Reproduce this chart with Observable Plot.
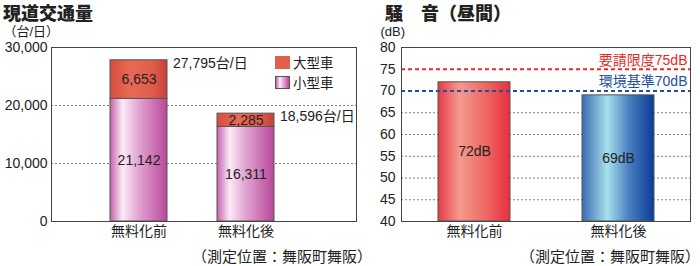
<!DOCTYPE html>
<html><head><meta charset="utf-8">
<script src="https://cdn.jsdelivr.net/npm/d3@7"></script>
<script src="https://cdn.jsdelivr.net/npm/@observablehq/plot@0.6"></script>
<style>
body{margin:0;background:#fff;}
#wrap{position:relative;width:700px;height:266px;overflow:hidden;font-family:"Liberation Sans","Noto Sans CJK JP",sans-serif;color:#222;}
.title{position:absolute;top:0px;font-family:"Noto Sans CJK JP",sans-serif;font-weight:900;font-size:18px;line-height:24px;height:24px;color:#222;white-space:nowrap;}
.foot{position:absolute;top:246px;height:20px;line-height:20px;font-size:15px;font-family:"Noto Sans CJK JP",sans-serif;white-space:nowrap;color:#222;}
#left{position:absolute;left:0;top:20px;}
#right{position:absolute;left:360px;top:20px;}
.legend{position:absolute;left:275px;top:53px;font-size:13.5px;line-height:19px;font-family:"Noto Sans CJK JP",sans-serif;}
.legend .row{display:flex;align-items:center;height:19.5px;}
.legend .row span{display:block;height:19.5px;line-height:19.5px;}
.legend .sw{width:15px;height:13px;margin-right:3px;box-sizing:border-box;}
</style>
</head><body>
<div id="wrap">
  <div id="left"></div>
  <div id="right"></div>
  <div class="title" style="left:3px">現道交通量</div>
  <div class="title" style="left:385px">騒　音（昼間）</div>
  <div class="legend" id="legend"></div>
  <div class="foot" style="right:328px">（測定位置：舞阪町舞阪）</div>
  <div class="foot" style="right:0px">（測定位置：舞阪町舞阪）</div>
</div>
<script>
// ---- data ----
const categories = ["無料化前", "無料化後"];
const vehicleTypes = ["小型車", "大型車"];
const smallCars = [21142, 16311];
const largeCars = [6653, 2285];
const trafficTicks = [0, 10000, 20000, 30000];
const trafficUnit = "（台/日）";
const totalSuffix = "台/日";

const noiseValues = [72, 69];
const noiseTicks = [40, 45, 50, 55, 60, 65, 70, 75, 80];
const noiseUnit = "(dB)";
const limitNames = ["要請限度", "環境基準"];
const limitValues = [75, 70];

// ---- derived tables ----
const fmt = d3.format(",d");
const trafficRows = categories.flatMap((c, i) => [
  {cat: c, type: vehicleTypes[0], value: smallCars[i]},
  {cat: c, type: vehicleTypes[1], value: largeCars[i]}
]);
const totals = categories.map((c, i) => ({cat: c, total: smallCars[i] + largeCars[i]}));
const noiseRows = categories.map((c, i) => ({cat: c, value: noiseValues[i]}));
const limits = limitNames.map((n, i) => ({name: n, value: limitValues[i]}));

const font = `"Liberation Sans","Noto Sans CJK JP",sans-serif`;

function addGradients(svg, grads) {
  const defs = d3.select(svg).insert("defs", ":first-child");
  for (const [id, stops] of grads) {
    const g = defs.append("linearGradient").attr("id", id)
      .attr("x1", 0).attr("x2", 1).attr("y1", 0).attr("y2", 0);
    for (const [o, c] of stops) g.append("stop").attr("offset", o).attr("stop-color", c);
  }
}

// ---- left: traffic ----
const left = Plot.plot({
  width: 360, height: 226,
  marginLeft: 51, marginRight: 4, marginTop: 27, marginBottom: 25,
  style: {fontSize: "14px", fontFamily: font, color: "#222", background: "transparent"},
  x: {domain: categories, range: [110, 275], paddingInner: 0.465, paddingOuter: 0, label: null, tickSize: 0, tickPadding: 5},
  y: {domain: [0, 30000], ticks: trafficTicks, tickFormat: fmt, label: null, tickSize: 0, tickPadding: 4},
  color: {domain: vehicleTypes, range: ["url(#gSmall)", "url(#gLarge)"]},
  marks: [
    Plot.ruleY(trafficTicks.slice(1, -1), {stroke: "#808080", strokeDasharray: "2,2"}),
    Plot.barY(trafficRows, {x: "cat", y: "value", fill: "type", stroke: "#555", strokeWidth: 1}),
    Plot.text(trafficRows, Plot.stackY({x: "cat", y: "value", z: "type", text: d => fmt(d.value), fill: "#222"})),
    Plot.text(totals, {x: "cat", y: "total", text: d => fmt(d.total) + totalSuffix, textAnchor: "start", dx: 34, dy: 3, fill: "#222"}),
    Plot.text([trafficUnit], {text: d => d, frameAnchor: "top-left", textAnchor: "start", lineAnchor: "middle", dx: -48, dy: -16, fontSize: 13, fill: "#222"}),
    Plot.frame({stroke: "#444"})
  ]
});
addGradients(left, [
  ["gSmall", [[0, "#c462ac"], [0.22, "#fbeaf6"], [0.5, "#e2a4d2"], [1, "#b8489a"]]],
  ["gLarge", [[0, "#d44c3e"], [0.35, "#e86a54"], [0.75, "#e05c4a"], [1, "#c4403a"]]]
]);
document.getElementById("left").append(left);

// legend
const legend = document.getElementById("legend");
const swatches = ["background:#e0604a;", "background:linear-gradient(90deg,#c462ac,#fbeaf6 30%,#e2a4d2 60%,#b8489a);border:1px solid #555;"];
[vehicleTypes[1], vehicleTypes[0]].forEach((t, i) => {
  const row = document.createElement("div");
  row.className = "row";
  row.innerHTML = `<div class="sw" style="${swatches[i]}"></div><span>${t}</span>`;
  legend.append(row);
});

// ---- right: noise ----
const right = Plot.plot({
  width: 340, height: 226,
  marginLeft: 41, marginRight: 10, marginTop: 27, marginBottom: 25,
  style: {fontSize: "14px", fontFamily: font, color: "#222", background: "transparent"},
  x: {domain: categories, paddingInner: 0.5, paddingOuter: 0.25, label: null, tickSize: 0, tickPadding: 5},
  y: {domain: [noiseTicks[0], noiseTicks[noiseTicks.length - 1]], ticks: noiseTicks, label: null, tickSize: 0, tickPadding: 6},
  color: {domain: categories, range: ["url(#gRed)", "url(#gBlue)"]},
  marks: [
    Plot.ruleY(noiseTicks.filter(t => t > noiseTicks[0] && t < limitValues[1]), {stroke: "#808080", strokeDasharray: "2,2"}),
    Plot.barY(noiseRows, {x: "cat", y1: noiseTicks[0], y2: "value", fill: "cat", stroke: "#555", strokeWidth: 1}),
    Plot.text(noiseRows, {x: "cat", y: d => (noiseTicks[0] + d.value) / 2, text: d => d.value + "dB", fill: "#222"}),
    Plot.ruleY([limits[0]], {y: "value", stroke: "#e62a2a", strokeWidth: 2, strokeDasharray: "4,3"}),
    Plot.ruleY([limits[1]], {y: "value", stroke: "#1f4fa6", strokeWidth: 2, strokeDasharray: "4,3"}),
    Plot.text([limits[0]], {y: "value", text: d => d.name + d.value + "dB", frameAnchor: "right", textAnchor: "end", dx: -3, dy: -9, fill: "#e62a2a"}),
    Plot.text([limits[1]], {y: "value", text: d => d.name + d.value + "dB", frameAnchor: "right", textAnchor: "end", dx: -3, dy: -9, fill: "#1f4fa6"}),
    Plot.text([noiseUnit], {text: d => d, frameAnchor: "top-left", textAnchor: "start", lineAnchor: "middle", dx: -21, dy: -16, fontSize: 13, fill: "#222"}),
    Plot.frame({stroke: "#444"})
  ]
});
addGradients(right, [
  ["gRed", [[0, "#e63a46"], [0.3, "#f59a8e"], [0.65, "#ee6a64"], [1, "#e8303c"]]],
  ["gBlue", [[0, "#3a6cb4"], [0.35, "#a6e0ea"], [0.65, "#4a80c0"], [1, "#0a3c98"]]]
]);
document.getElementById("right").append(right);
</script>
</body></html>
